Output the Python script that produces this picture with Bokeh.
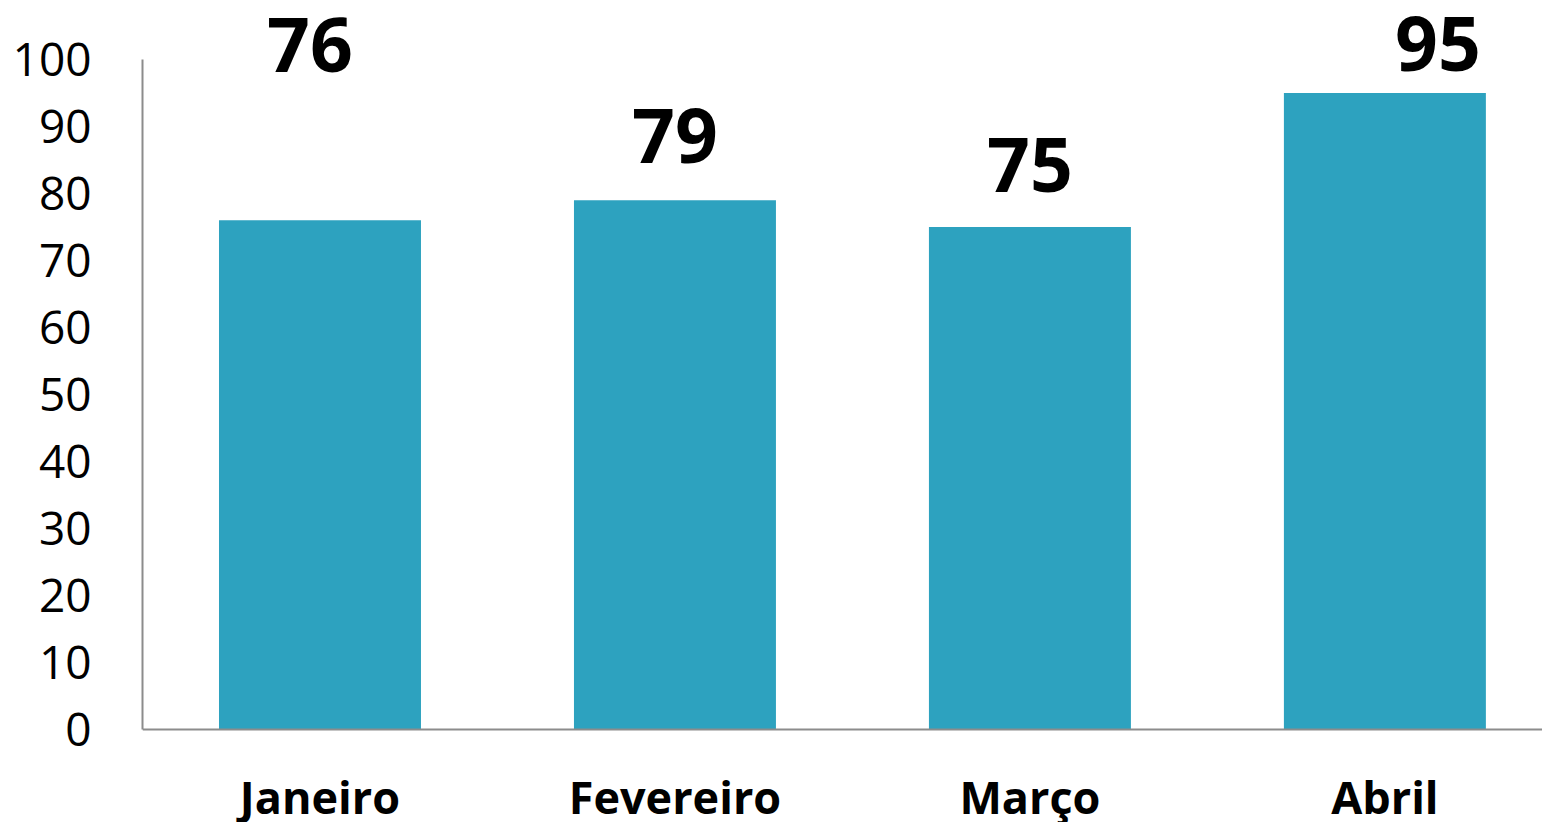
from bokeh.plotting import figure
from bokeh.models import Range1d, FixedTicker, LabelSet, ColumnDataSource, Span
from bokeh.core.properties import value
from bokeh.embed import file_html
from bokeh.resources import INLINE

# ---- data ----
categories = ["Janeiro", "Fevereiro", "Março", "Abril"]
values = [76, 79, 75, 95]
y_ticks = [0, 10, 20, 30, 40, 50, 60, 70, 80, 90, 100]

# label nudges in screen pixels (as placed in the original chart)
label_dx = [-10, 0, 0, 53]
label_dy = [148, 37, 35, 22]

BAR_COLOR = "#2DA2BF"
AXIS_COLOR = "#8C8C8C"
FONT = "Open Sans"

xs = [i + 0.5 for i in range(len(categories))]
src = ColumnDataSource(dict(
    x=xs, top=values, txt=[str(v) for v in values],
    dx=label_dx, dy=label_dy, cat=categories, zero=[0] * len(values),
))

p = figure(width=1542, height=822, output_backend="svg", toolbar_location=None,
           x_range=Range1d(0, 3.944), y_range=Range1d(-13.88, 108.81),
           min_border_left=142, min_border_right=0, min_border_top=0,
           min_border_bottom=0)
p.outline_line_color = None
p.xgrid.visible = False
p.ygrid.visible = False
p.xaxis.visible = False
p.background_fill_color = "white"
p.border_fill_color = "white"

p.vbar(x="x", top="top", bottom=0, width=0.569, source=src,
       fill_color=BAR_COLOR, line_color=None)

# baseline (category axis line) at zero
p.add_layout(Span(location=0, dimension="width", line_color=AXIS_COLOR, line_width=2))

# y axis
p.yaxis.ticker = FixedTicker(ticks=y_ticks)
p.yaxis.bounds = (0, 100)
p.yaxis.axis_line_color = AXIS_COLOR
p.yaxis.axis_line_width = 2
p.yaxis.major_tick_line_color = None
p.yaxis.minor_tick_line_color = None
p.yaxis.major_tick_out = 0
p.yaxis.major_tick_in = 0
p.yaxis.major_label_standoff = 51
p.yaxis.major_label_text_font = FONT
p.yaxis.major_label_text_font_size = "46px"
p.yaxis.major_label_text_color = "#000000"

vals = LabelSet(x="x", y="top", text="txt", x_offset="dx", y_offset="dy", source=src,
                text_font=value(FONT), text_font_size="75px", text_font_style="bold",
                text_color="#000000", text_align="center", text_baseline="alphabetic")
p.add_layout(vals)

# category names below the baseline
cats = LabelSet(x="x", y="zero", text="cat", y_offset=-84, source=src,
                text_font=value(FONT), text_font_size="45px", text_font_style="bold",
                text_color="#000000", text_align="center", text_baseline="alphabetic")
p.add_layout(cats)

open("out.html", "w").write(file_html(p, INLINE))
